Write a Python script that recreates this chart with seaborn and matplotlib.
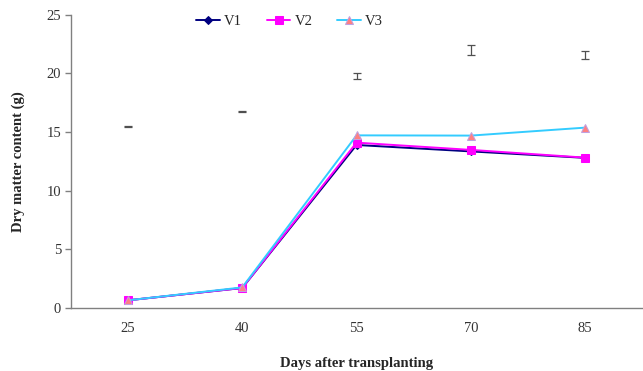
import pandas as pd
import matplotlib
matplotlib.use('Agg')
import matplotlib.pyplot as plt
import seaborn as sns

# Data
days = ['25', '40', '55', '70', '85']
v1 = [0.65, 1.70, 13.90, 13.35, 12.80]
v2 = [0.65, 1.70, 14.10, 13.48, 12.82]
v3 = [0.65, 1.75, 14.72, 14.70, 15.38]
lsd_mean = [15.45, 16.72, 19.80, 22.00, 21.55]
lsd_err = [0.03, 0.05, 0.25, 0.45, 0.35]

sns.set_style('white')
plt.rcParams['font.family'] = ['Liberation Serif', 'DejaVu Serif']

fig = plt.figure(figsize=(6.43, 3.71), dpi=100)
ax = fig.add_axes([0.110, 0.170, 0.889, 0.790])

# styles per series
series = [
    ('V1', v1, '#000080', 'D', '#000080', '#000080', 4),
    ('V2', v2, '#FF00FF', 's', '#FF00FF', '#FF00FF', 6),
    ('V3', v3, '#33CCFF', '^', '#FF8080', '#C0A0E0', 6),
]

for name, vals, col, mk, mfc, mec, ms in series:
    df = pd.DataFrame({'day': days, 'value': vals})
    sns.lineplot(data=df, x='day', y='value', ax=ax, color=col, linewidth=1.4,
                 marker=mk, markersize=ms, markerfacecolor=mfc,
                 markeredgecolor=mec, label=name)

# floating bars (LSD)
ax.errorbar(days, lsd_mean, yerr=lsd_err, fmt='none', ecolor='#505050',
            elinewidth=0.9, capsize=3, capthick=0.9)

ax.set_xlim(-0.5, 4.5)
ax.set_ylim(0, 25)
ax.set_yticks([0, 5, 10, 15, 20, 25])
ax.set_xticks(range(len(days)))
ax.set_xticklabels(days)
ax.set_xticks([i - 0.5 for i in range(len(days) + 1)], minor=True)
ax.tick_params(axis='x', which='major', length=0, pad=10, labelsize=10.5, colors='#333333')
ax.tick_params(axis='x', which='minor', length=4, width=1, color='#808080', direction='out')
ax.tick_params(axis='y', length=4, width=1, color='#808080', direction='out',
               labelsize=10.5, colors='#333333', left=True, pad=3)
for s in ['top', 'right']:
    ax.spines[s].set_visible(False)
for s in ['left', 'bottom']:
    ax.spines[s].set_color('#808080')
    ax.spines[s].set_linewidth(1.0)

ax.set_xlabel('Days after transplanting', fontweight='bold', fontsize=10.5, labelpad=16)
ax.set_ylabel('Dry matter content (g)', fontweight='bold', fontsize=10.5, labelpad=15)

ax.legend(loc='upper left', bbox_to_anchor=(0.197, 1.045), ncol=3, frameon=False,
          fontsize=10.5, handlelength=1.6, columnspacing=1.7, handletextpad=0.3)

fig.savefig('out.png', dpi=100)
